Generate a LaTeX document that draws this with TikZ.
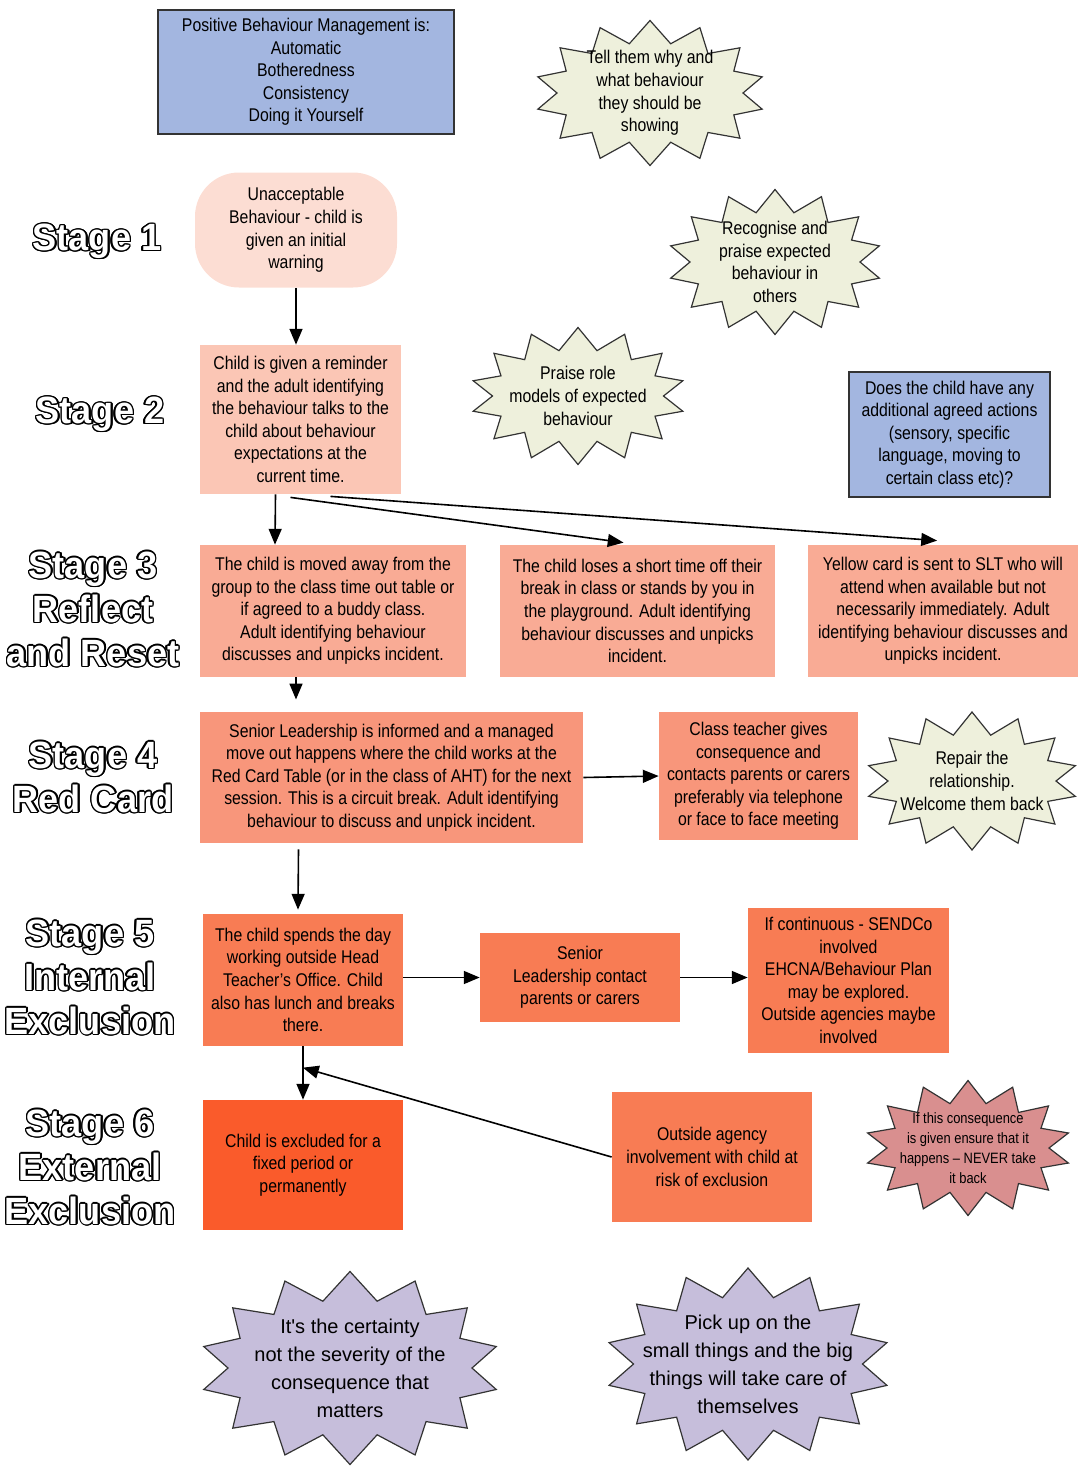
\documentclass[tikz,border=0pt]{standalone}
\usepackage{fontspec}
\setmainfont{Liberation Sans}[FakeStretch=0.86]
\newfontfamily\stagefont{Liberation Sans}[FakeStretch=0.95]
\newfontfamily\plainsans{Liberation Sans}
\usepackage{contour}
\contourlength{0.7pt}
\usepackage{tikz}
\usetikzlibrary{shapes, arrows, positioning, calc}

\definecolor{mgmtblue}{HTML}{A3B6E0}
\definecolor{warnpink}{HTML}{FCDDD3}
\definecolor{remindpink}{HTML}{FBC6B5}
\definecolor{reflectsalmon}{HTML}{F9AB95}
\definecolor{redcardsalmon}{HTML}{F8967B}
\definecolor{internalorange}{HTML}{F87C54}
\definecolor{externalred}{HTML}{FA5B2B}
\definecolor{burstbeige}{HTML}{EEF0DC}
\definecolor{burstpink}{HTML}{D98F8F}
\definecolor{burstlilac}{HTML}{C6BEDB}

\newcommand{\stagetxt}[1]{\contour{black}{#1}}

\begin{document}
\begin{tikzpicture}[x=0.5pt,y=-0.5pt,>=triangle 45,
  every node/.style={align=center, inner sep=0pt, font=\fontsize{9.2}{11.3}\selectfont},
  stagelbl/.style={text=white, font=\stagefont\bfseries\fontsize{19}{22}\selectfont},
  flowbox/.style={rectangle, draw=none},
  infobox/.style={rectangle, fill=mgmtblue, draw=black!80, line width=1.2pt},
  burst/.style={starburst, starburst points=14, starburst point height=11pt,
    random starburst=0, inner xsep=-40pt, inner ysep=-25pt,
    draw=black!80, line width=0.6pt, fill=burstbeige},
  link/.style={->, line width=0.8pt}]
  \useasboundingbox (0,0) rectangle (1078,1467);

  % stage names down the left
  \node[stagelbl] (st1) at (97,242)  {\stagetxt{Stage 1}};
  \node[stagelbl] (st2) at (100,415) {\stagetxt{Stage 2}};
  \node[stagelbl] (st3) at (93,610)  {\stagetxt{Stage 3}\\\stagetxt{Reflect}\\\stagetxt{and Reset}};
  \node[stagelbl] (st4) at (93,778)  {\stagetxt{Stage 4}\\\stagetxt{Red Card}};
  \node[stagelbl] (st5) at (90,978)  {\stagetxt{Stage 5}\\\stagetxt{Internal}\\\stagetxt{Exclusion}};
  \node[stagelbl] (st6) at (90,1168) {\stagetxt{Stage 6}\\\stagetxt{External}\\\stagetxt{Exclusion}};

  % the flow itself
  \node[infobox, minimum width=148pt, minimum height=62pt] (mgmt) at (306,72)
    {Positive Behaviour Management is:\\Automatic\\Botheredness\\Consistency\\Doing it Yourself};
  \node[flowbox, fill=warnpink, rounded corners=22pt, minimum width=101pt, minimum height=57.5pt] (warn) at (296,230)
    {Unacceptable\\Behaviour - child is\\given an initial\\warning};
  \node[flowbox, fill=remindpink, minimum width=100.5pt, minimum height=74.5pt] (remind) at (300.5,419.5)
    {Child is given a reminder\\and the adult identifying\\the behaviour talks to the\\child about behaviour\\expectations at the\\current time.};
  \node[infobox, minimum width=100.5pt, minimum height=62.5pt] (actions) at (949.5,434.5)
    {Does the child have any\\additional agreed actions\\(sensory, specific\\language, moving to\\certain class etc)?};

  \node[flowbox, fill=reflectsalmon, minimum width=133pt, minimum height=66pt] (moveaway) at (333,611)
    {The child is moved away from the\\group to the class time out table or\\if agreed to a buddy class.\\Adult identifying behaviour\\discusses and unpicks incident.};
  \node[flowbox, fill=reflectsalmon, minimum width=137.5pt, minimum height=66pt] (losebreak) at (637.5,611)
    {The child loses a short time off their\\break in class or stands by you in\\the playground. Adult identifying\\behaviour discusses and unpicks\\incident.};
  \node[flowbox, fill=reflectsalmon, minimum width=135pt, minimum height=66pt] (yellow) at (943,611)
    {Yellow card is sent to SLT who will\\attend when available but not\\necessarily immediately. Adult\\identifying behaviour discusses and\\unpicks incident.};

  \node[flowbox, fill=redcardsalmon, minimum width=191.5pt, minimum height=65.5pt] (redcard) at (391.5,777.5)
    {Senior Leadership is informed and a managed\\move out happens where the child works at the\\Red Card Table (or in the class of AHT) for the next\\session. This is a circuit break. Adult identifying\\behaviour to discuss and unpick incident.};
  \node[flowbox, fill=redcardsalmon, minimum width=99.5pt, minimum height=64pt] (contact) at (758.5,776)
    {Class teacher gives\\consequence and\\contacts parents or carers\\preferably via telephone\\or face to face meeting};

  \node[flowbox, fill=internalorange, minimum width=100pt, minimum height=66pt] (headoffice) at (303,980)
    {The child spends the day\\working outside Head\\Teacher's Office. Child\\also has lunch and breaks\\there.};
  \node[flowbox, fill=internalorange, minimum width=100pt, minimum height=44.5pt] (sltcontact) at (580,977.5)
    {Senior\\Leadership contact\\parents or carers};
  \node[flowbox, fill=internalorange, minimum width=100.5pt, minimum height=72.5pt] (sendco) at (848.5,980.5)
    {If continuous - SENDCo\\involved\\EHCNA/Behaviour Plan\\may be explored.\\Outside agencies maybe\\involved};

  \node[flowbox, fill=externalred, minimum width=100pt, minimum height=65pt] (excluded) at (303,1165)
    {Child is excluded for a\\fixed period or\\permanently};
  \node[flowbox, fill=internalorange, minimum width=100pt, minimum height=65pt] (agency) at (712,1157)
    {Outside agency\\involvement with child at\\risk of exclusion};

  % reminders in bursts
  \node[burst, minimum width=115pt, minimum height=72.5pt] (tellwhy) at (650,93)
    {Tell them why and\\what behaviour\\they should be\\showing};
  \node[burst, minimum width=107pt, minimum height=72.5pt] (recognise) at (775,262)
    {Recognise and\\praise expected\\behaviour in\\others};
  \node[burst, minimum width=107.5pt, minimum height=68.5pt] (rolemodels) at (578,396)
    {Praise role\\models of expected\\behaviour};
  \node[burst, minimum width=106pt, minimum height=69pt] (repair) at (972,781)
    {Repair the\\relationship.\\Welcome them back};
  \node[burst, fill=burstpink, minimum width=103pt, minimum height=67.5pt,
    font=\fontsize{7.5}{10}\selectfont] (neverback) at (968,1148)
    {If this consequence\\is given ensure that it\\happens -- NEVER take\\it back};
  \node[burst, fill=burstlilac, starburst point height=14pt, minimum width=150pt, minimum height=96.5pt,
    font=\plainsans\fontsize{10}{14}\selectfont] (certainty) at (350,1368)
    {It's the certainty\\not the severity of the\\consequence that\\matters};
  \node[burst, fill=burstlilac, starburst point height=14pt, minimum width=142.5pt, minimum height=96pt,
    font=\plainsans\fontsize{10}{14}\selectfont] (pickup) at (748,1364)
    {Pick up on the\\small things and the big\\things will take care of\\themselves};

  \coordinate (join) at ($(headoffice.south)!0.4!(excluded.north)$);

  \path[link]
        (warn.south) edge (warn.south |- remind.north)
        ($(remind.south)+(-25,0)$) edge ($(moveaway.north)+(-58,0)$)
        ($(remind.south)+(-10,3)$) edge ($(losebreak.north)+(-14,-2)$)
        ($(remind.south)+(30,2)$) edge ($(yellow.north)+(-6,-4)$)
        ($(moveaway.south)+(-37,0)$) edge ($(moveaway.south)+(-37,22)$)
        (redcard.east) edge (contact.west)
        ($(redcard.south)+(-93,6)$) edge ($(headoffice.north)+(-5,-4)$)
        (sltcontact.west -| headoffice.east) edge (sltcontact.west)
        (sltcontact.east) edge (sltcontact.east -| sendco.west)
        (headoffice.south) edge (excluded.north)
        (agency.west) edge (join);
\end{tikzpicture}
\end{document}
